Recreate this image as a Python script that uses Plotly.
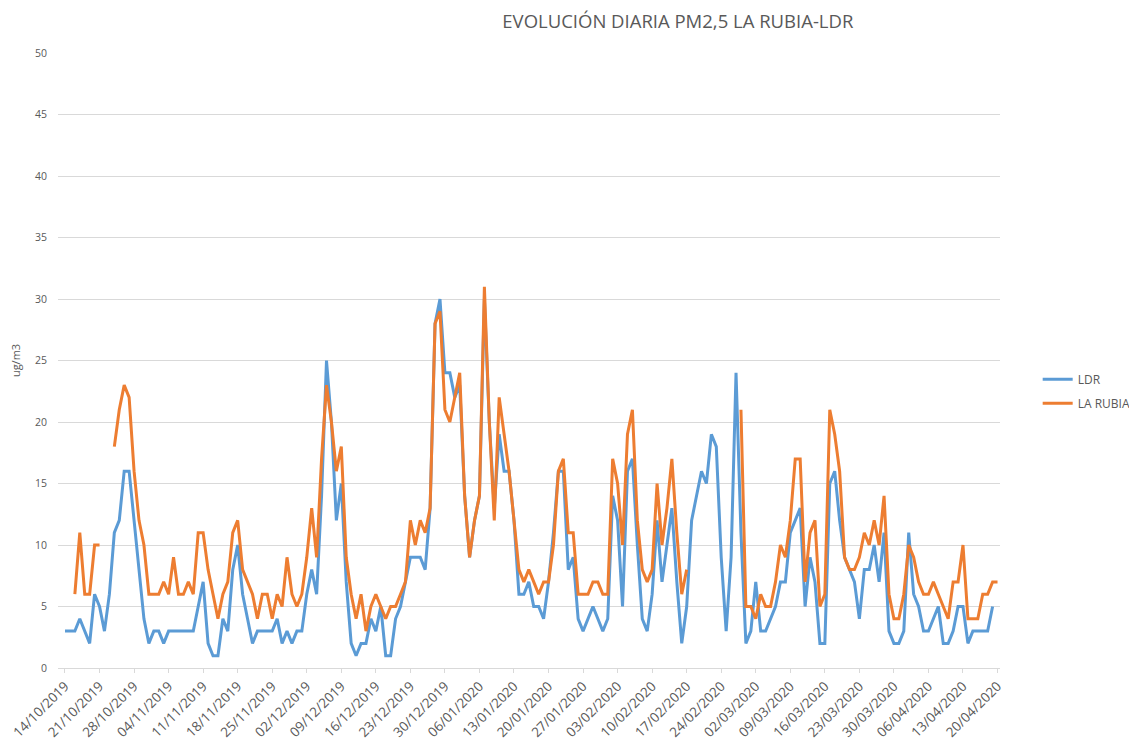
import pandas as pd
import plotly.graph_objects as go

start_date = "2019-10-14"
n_days = 190

ldr = [
    3, 3, 3, 4, 3, 2, 6, 5, 3, 6,
    11, 12, 16, 16, 12, 8, 4, 2, 3, 3,
    2, 3, 3, 3, 3, 3, 3, 5, 7, 2,
    1, 1, 4, 3, 8, 10, 6, 4, 2, 3,
    3, 3, 3, 4, 2, 3, 2, 3, 3, 6,
    8, 6, 14, 25, 20, 12, 15, 7, 2, 1,
    2, 2, 4, 3, 5, 1, 1, 4, 5, 7,
    9, 9, 9, 8, 13, 28, 30, 24, 24, 22,
    23, 14, 9, 12, 14, 30, 20, 13, 19, 16,
    16, 12, 6, 6, 7, 5, 5, 4, 7, 11,
    16, 16, 8, 9, 4, 3, 4, 5, 4, 3,
    4, 14, 12, 5, 16, 17, 10, 4, 3, 6,
    12, 7, 10, 13, 7, 2, 5, 12, 14, 16,
    15, 19, 18, 9, 3, 9, 24, 11, 2, 3,
    7, 3, 3, 4, 5, 7, 7, 11, 12, 13,
    5, 9, 7, 2, 2, 15, 16, 12, 9, 8,
    7, 4, 8, 8, 10, 7, 11, 3, 2, 2,
    3, 11, 6, 5, 3, 3, 4, 5, 2, 2,
    3, 5, 5, 2, 3, 3, 3, 3, 5, None,
]

la_rubia = [
    None, None, 6, 11, 6, 6, 10, 10, None, None,
    18, 21, 23, 22, 16, 12, 10, 6, 6, 6,
    7, 6, 9, 6, 6, 7, 6, 11, 11, 8,
    6, 4, 6, 7, 11, 12, 8, 7, 6, 4,
    6, 6, 4, 6, 5, 9, 6, 5, 6, 9,
    13, 9, 17, 23, 20, 16, 18, 9, 6, 4,
    6, 3, 5, 6, 5, 4, 5, 5, 6, 7,
    12, 10, 12, 11, 13, 28, 29, 21, 20, 22,
    24, 14, 9, 12, 14, 31, 20, 12, 22, 19,
    16, 12, 8, 7, 8, 7, 6, 7, 7, 10,
    16, 17, 11, 11, 6, 6, 6, 7, 7, 6,
    6, 17, 15, 10, 19, 21, 12, 8, 7, 8,
    15, 10, 13, 17, 11, 6, 8, None, None, None,
    None, None, None, None, None, None, None, 21, 5, 5,
    4, 6, 5, 5, 7, 10, 9, 12, 17, 17,
    7, 11, 12, 5, 6, 21, 19, 16, 9, 8,
    8, 9, 11, 10, 12, 10, 14, 6, 4, 4,
    6, 10, 9, 7, 6, 6, 7, 6, 5, 4,
    7, 7, 10, 4, 4, 4, 6, 6, 7, 7,
]

dates = pd.date_range(start_date, periods=n_days, freq="D")

TEXT = "#595959"
GRID = "#D9D9D9"
FONT = "Open Sans"

fig = go.Figure()
fig.add_trace(go.Scatter(
    x=dates, y=ldr, name="LDR", mode="lines",
    line=dict(color="#5B9BD5", width=3), connectgaps=False,
    legendgroup="a",
))
fig.add_trace(go.Scatter(
    x=dates, y=la_rubia, name="LA RUBIA", mode="lines",
    line=dict(color="#ED7D31", width=3), connectgaps=False,
    legendgroup="b",
))

x0 = dates[0] - pd.Timedelta(hours=34)
x1 = dates[-1] + pd.Timedelta(hours=12)

fig.update_layout(
    width=1129, height=732,
    margin=dict(l=50, r=137, t=45, b=72, autoexpand=False),
    paper_bgcolor="white", plot_bgcolor="white",
    font=dict(family=FONT, color=TEXT, size=11),
    title=dict(
        text="EVOLUCIÓN DIARIA PM2,5 LA RUBIA-LDR",
        x=0.658, xref="paper", xanchor="center",
        y=0.981, yref="container", yanchor="middle",
        font=dict(family=FONT, size=18.5, color=TEXT),
    ),
    legend=dict(
        x=1.04, y=0.45, xanchor="left", yanchor="middle",
        font=dict(family=FONT, size=12, color=TEXT),
        itemwidth=30, traceorder="grouped", tracegroupgap=5,
        bgcolor="rgba(0,0,0,0)",
    ),
    xaxis=dict(
        type="date", range=[x0, x1], automargin=False,
        tick0=start_date, dtick=7 * 86400000,
        tickformat="%d/%m/%Y", tickangle=-45,
        tickfont=dict(family=FONT, size=13.5, color=TEXT),
        showgrid=False, showline=True, linecolor=GRID, linewidth=1,
        ticks="outside", ticklen=4, tickcolor=GRID,
        zeroline=False,
    ),
    yaxis=dict(
        range=[0, 50], dtick=5, tick0=0, automargin=False,
        showgrid=True, gridcolor=GRID, gridwidth=1,
        zeroline=False, showline=False,
        tickfont=dict(family=FONT, size=10.5, color=TEXT),
        ticklabelstandoff=10,
        title=dict(text="ug/m3", font=dict(family=FONT, size=11, color=TEXT), standoff=14),
    ),
)

fig.write_html("out.html")
